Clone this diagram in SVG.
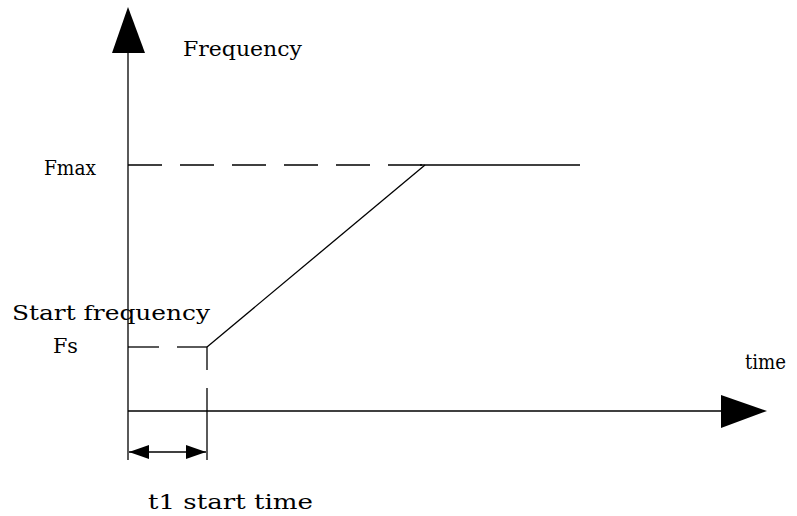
<svg xmlns="http://www.w3.org/2000/svg" width="797" height="516" viewBox="0 0 797 516">
<style>
.ln{stroke:#000;stroke-width:1.3;fill:none}
.ds{stroke:#000;stroke-width:1.3;fill:none;stroke-dasharray:34 18}
.t{font-family:"DejaVu Serif","Liberation Serif",serif;font-size:20px;fill:#000}
</style>
<defs>
<marker id="ah" markerWidth="20" markerHeight="14" refX="20" refY="7" orient="auto-start-reverse" markerUnits="userSpaceOnUse">
<path d="M0,0 L20,7 L0,14 Z" fill="#000"/>
</marker>
</defs>
<rect width="797" height="516" fill="#fff"/>
<g id="axes">
<line class="ln" x1="128" y1="460" x2="128" y2="50"/>
<polygon points="128,7 112,53 145,53" fill="#000"/>
<line class="ln" x1="128" y1="411" x2="724" y2="411"/>
<polygon points="767,411 721,395 721,428" fill="#000"/>
</g>
<g id="connectors">
<line class="ds" x1="128" y1="165" x2="425" y2="165"/>
<line class="ln" x1="420" y1="165" x2="580" y2="165"/>
<line class="ln" x1="207" y1="347" x2="425" y2="165"/>
<line class="ln" x1="128" y1="347" x2="159" y2="347"/>
<line class="ln" x1="177" y1="347" x2="207" y2="347"/>
<line class="ln" x1="207" y1="347" x2="207" y2="370"/>
<line class="ln" x1="207" y1="388" x2="207" y2="460"/>
<line class="ln" x1="129" y1="452" x2="206" y2="452" marker-start="url(#ah)" marker-end="url(#ah)"/>
</g>
<g id="labels">
<text class="t" x="183" y="56" textLength="119" lengthAdjust="spacingAndGlyphs">Frequency</text>
<text class="t" x="44" y="175" textLength="52" lengthAdjust="spacingAndGlyphs">Fmax</text>
<text class="t" x="12" y="320" textLength="198" lengthAdjust="spacingAndGlyphs">Start frequency</text>
<text class="t" x="53" y="353" textLength="25" lengthAdjust="spacingAndGlyphs">Fs</text>
<text class="t" x="745" y="369" textLength="41" lengthAdjust="spacingAndGlyphs">time</text>
<text class="t" x="148" y="509" textLength="165" lengthAdjust="spacingAndGlyphs">t1 start time</text>
</g>
</svg>
